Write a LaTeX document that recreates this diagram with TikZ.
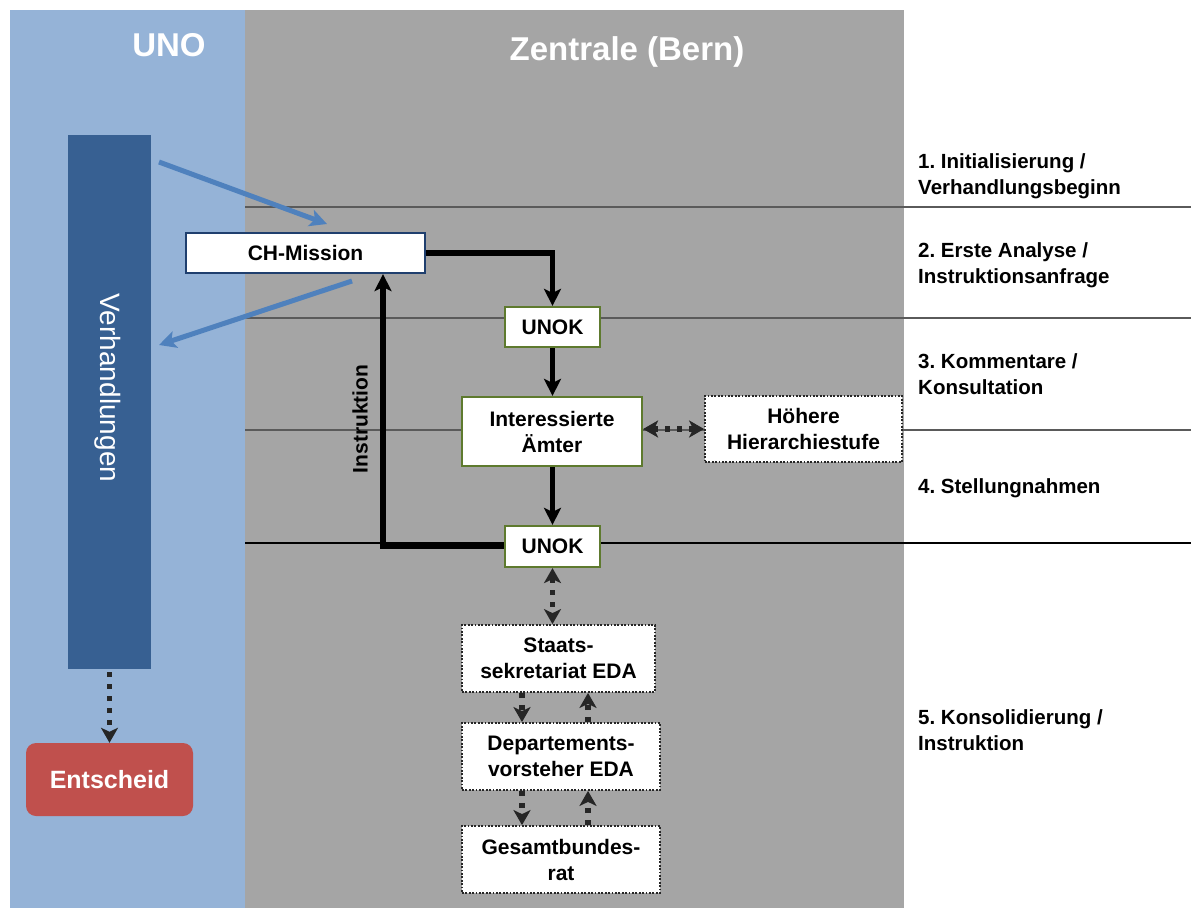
\documentclass[tikz,border=0pt]{standalone}
\usepackage{fontspec}
\setmainfont{Liberation Sans}
\usetikzlibrary{arrows.meta,calc}
\definecolor{panelblue}{HTML}{95B3D7}
\definecolor{panelgray}{HTML}{A5A5A5}
\definecolor{barblue}{HTML}{376092}
\definecolor{redbox}{HTML}{C0504D}
\definecolor{arrowblue}{HTML}{4F81BD}
\definecolor{boxgreen}{HTML}{5E7A2E}
\definecolor{chmborder}{HTML}{1F3F6E}
\definecolor{dotgray}{HTML}{262626}
\definecolor{linegray}{HTML}{5A5A5A}
\frenchspacing
\begin{document}
\begin{tikzpicture}[x=1pt,y=-1pt,
  txt/.style={font=\fontsize{21pt}{26pt}\selectfont\bfseries, align=center},
  greenbox/.style={txt, draw=boxgreen, line width=2.2pt, fill=white, inner sep=0pt},
  dotbox/.style={txt, draw=dotgray, line width=1.8pt, dash pattern=on 1.8pt off 1.6pt, fill=white, inner sep=0pt},
  flow/.style={line width=5.5pt, -{Stealth[length=17pt,width=17pt,inset=4pt]}},
  dotarrow/.style={draw=dotgray, line width=5.5pt, dash pattern=on 5pt off 7pt, -{Stealth[length=15pt,width=17pt,inset=4pt]}},
  dotdouble/.style={draw=dotgray, line width=5.5pt, dash pattern=on 5pt off 7pt, {Stealth[length=15pt,width=17pt,inset=4pt]}-{Stealth[length=15pt,width=17pt,inset=4pt]}},
  bluearrow/.style={draw=arrowblue, line width=5pt, -{Stealth[length=17pt,width=17pt,inset=4pt]}},
  sep/.style={draw=linegray, line width=1.6pt},
  lab/.style={font=\fontsize{20.5pt}{26pt}\selectfont\bfseries, align=left, inner sep=0pt},
]
\useasboundingbox (0,0) rectangle (1191,909);
\fill[white] (0,0) rectangle (1191,909);
% panels
\fill[panelblue] (10,10) rectangle (245,908);
\fill[panelgray] (245,10) rectangle (904,908);
% separator lines
\draw[sep] (245,207) -- (1191,207);
\draw[sep] (245,318) -- (1191,318);
\draw[sep] (245,430) -- (1191,430);
\draw[black, line width=2.8pt] (245,543) -- (1191,543);
% titles
\node[font=\fontsize{33pt}{36pt}\selectfont\bfseries, text=white, anchor=base] (uno) at (169,57) {UNO};
\node[font=\fontsize{33pt}{36pt}\selectfont\bfseries, text=white, anchor=base] (zentrale) at (627,61) {Zentrale (Bern)};
% right labels
\node[lab, anchor=north west] (l1) at (918,153) {1. Initialisierung /\\Verhandlungsbeginn};
\node[lab, anchor=north west] (l2) at (918,242) {2. Erste Analyse /\\Instruktionsanfrage};
\node[lab, anchor=north west] (l3) at (918,353) {3. Kommentare /\\Konsultation};
\node[lab, anchor=base west] (l4) at (918,493) {4. Stellungnahmen};
\node[lab, anchor=north west] (l5) at (918,709) {5. Konsolidierung /\\Instruktion};
% Verhandlungen bar
\node[fill=barblue, minimum width=83pt, minimum height=534pt, inner sep=0pt] (verh) at (109.5,402) {};
\node[font=\fontsize{28pt}{30pt}\selectfont, text=white, rotate=-90] (verhtxt) at (108,388) {Verhandlungen};
% Entscheid
\node[fill=redbox, rounded corners=10pt, minimum width=167pt, minimum height=73pt, inner sep=0pt,
      font=\fontsize{25pt}{28pt}\selectfont\bfseries, text=white] (ent) at (109.5,779.5) {Entscheid};
% boxes
\node[txt, draw=chmborder, line width=2.2pt, fill=white, minimum width=239pt, minimum height=40pt, inner sep=0pt] (chm) at (305.5,253) {CH-Mission};
\node[greenbox, minimum width=95pt, minimum height=40pt] (unok1) at (552.5,327) {UNOK};
\node[greenbox, minimum width=180pt, minimum height=69pt] (ia) at (552,431.5) {Interessierte\\Ämter};
\node[dotbox, minimum width=197pt, minimum height=66pt] (hh) at (803.5,429) {Höhere\\Hierarchiestufe};
\node[greenbox, minimum width=95pt, minimum height=41pt] (unok2) at (552.5,546.5) {UNOK};
\node[dotbox, minimum width=193pt, minimum height=67pt] (staats) at (558.5,658.5) {Staats-\\sekretariat EDA};
\node[dotbox, minimum width=198pt, minimum height=67pt] (dep) at (561,756.5) {Departements-\\vorsteher EDA};
\node[dotbox, minimum width=198pt, minimum height=67pt] (ges) at (561,859.5) {Gesamtbundes-\\rat};
% Instruktion label
\node[txt, rotate=90] (instr) at (360,419) {Instruktion};
% coordinates
\coordinate (instrx) at (383,0);
\coordinate (dx1) at (522,0);
\coordinate (dx2) at (588,0);
\coordinate (b1s) at (159,162);
\coordinate (b1e) at (327,224);
\coordinate (b2s) at (352,281);
\coordinate (b2e) at (159,345);
% flow arrows
\draw[flow] (chm.east) -| (unok1.north);
\draw[flow] (unok1.south) -- (ia.north -| unok1.south);
\draw[flow] (ia.south -| unok2.north) -- (unok2.north);
\draw[flow] (unok2.west) -| (chm.south -| instrx);
% blue arrows
\draw[bluearrow] (b1s) -- (b1e);
\draw[bluearrow] (b2s) -- (b2e);
% dotted arrows
\draw[dotarrow, shorten <=3pt] (verh.south) -- (ent.north);
\draw[dotdouble] (ia.east |- hh.west) -- (hh.west);
\draw[dotdouble] (unok2.south) -- (unok2.south |- staats.north);
\draw[dotarrow] (staats.south -| dx1) -- (dep.north -| dx1);
\draw[dotarrow] (dep.north -| dx2) -- (staats.south -| dx2);
\draw[dotarrow] (dep.south -| dx1) -- (ges.north -| dx1);
\draw[dotarrow] (ges.north -| dx2) -- (dep.south -| dx2);
\end{tikzpicture}
\end{document}
